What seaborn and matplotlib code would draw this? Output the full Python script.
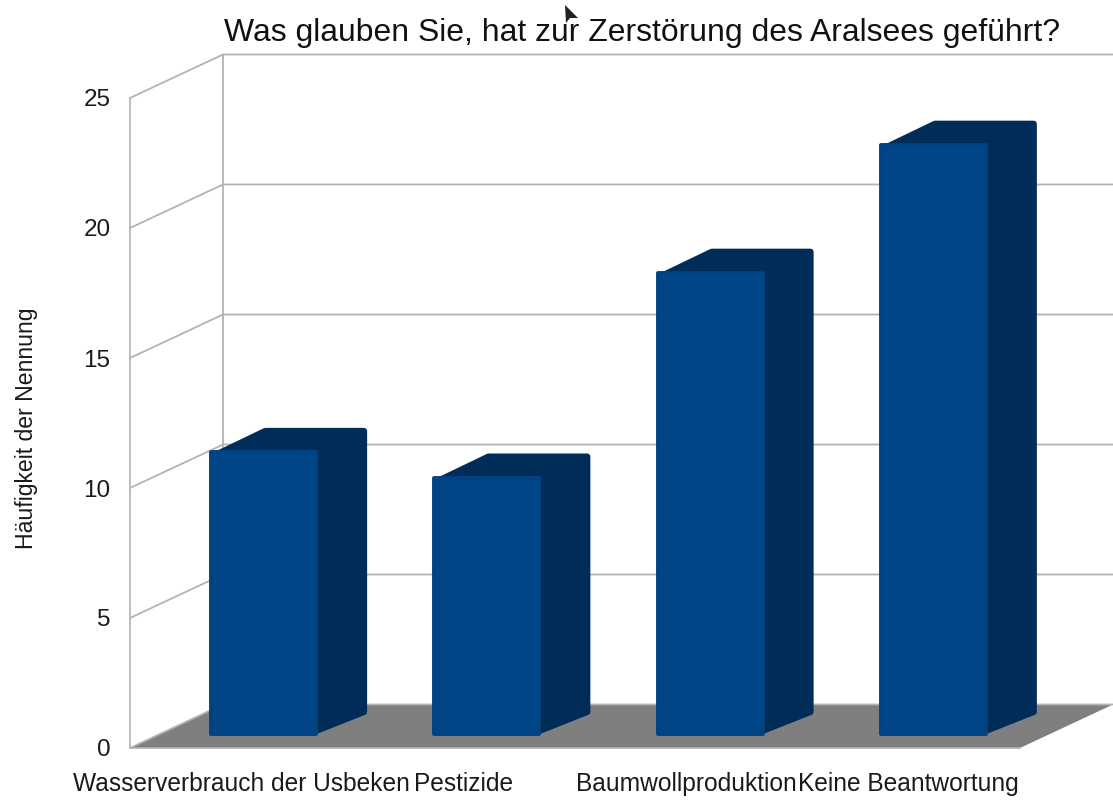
import matplotlib
matplotlib.use("Agg")
import matplotlib.pyplot as plt
import seaborn as sns
import pandas as pd
from matplotlib.patches import Polygon

categories = ["Wasserverbrauch der Usbeken", "Pestizide", "Baumwollproduktion", "Keine Beantwortung"]
values = [11, 10, 18, 23]
y_ticks = [0, 5, 10, 15, 20, 25]
title = "Was glauben Sie, hat zur Zerstörung des Aralsees geführt?"
y_label = "Häufigkeit der Nennung"

FRONT = "#004586"
EDGE = "#004282"
DEPTH = "#002c58"
GRID = "#b3b3b3"
FLOOR = "#7f7f7f"
W, H = 1113, 800

sns.set_theme(style="white")
plt.rcParams["font.family"] = ["Liberation Sans", "DejaVu Sans"]
fig = plt.figure(figsize=(W / 100, H / 100), dpi=100, facecolor="white")


def box(x0, x1, ytop, ybot):
    return [x0 / W, 1 - ybot / H, (x1 - x0) / W, (ybot - ytop) / H]


# Front plane: holds the value axis and the category labels
ax = fig.add_axes(box(130, 1020, 98, 748))
ax.set_xlim(-0.5, 3.5)
ax.set_ylim(0, 25)
ax.set_facecolor("none")
for s in ("top", "right", "bottom"):
    ax.spines[s].set_visible(False)
ax.spines["left"].set_color(GRID)
ax.spines["left"].set_linewidth(1.2)
ax.set_xticks(range(len(categories)))
ax.set_xticklabels(categories, fontsize=17.65, color="#1a1a1a")
ax.set_yticks(y_ticks)
ax.set_yticklabels([str(t) for t in y_ticks], fontsize=17.5, color="#1a1a1a")
ax.tick_params(axis="x", length=0, pad=17.5)
ax.tick_params(axis="y", length=0, pad=14)

# Walls and floor, projected from the front plane
sx = 4 / 890  # data units per pixel on x
sy = 25 / 650  # data units per pixel on y
dx, dy = 93 * sx, 43.5 * sy
x_left = -0.5
x_front_right = 3.5
x_edge = x_left + (W - 130) * sx
ax.add_patch(Polygon([(x_left, 0), (x_left + dx, dy), (x_edge, dy), (x_front_right, 0)],
                     closed=True, facecolor=FLOOR, edgecolor="none", clip_on=False, zorder=1))
ax.plot([x_left, x_front_right], [0, 0], color=GRID, lw=1.2, clip_on=False, zorder=1.5)
for t in y_ticks:
    ax.plot([x_left, x_left + dx, x_edge], [t, t + dy, t + dy], color=GRID, lw=1.3,
            clip_on=False, zorder=1.2, solid_joinstyle="miter")
ax.plot([x_left + dx, x_left + dx], [dy, 25 + dy], color=GRID, lw=1.3, clip_on=False, zorder=1.2)

# Bars stand inside the box, on their own slightly smaller plane
PX = 25.6
bar_ax = fig.add_axes(box(152, 1045, 734 - 25 * PX, 734))
bar_ax.set_facecolor("none")
df = pd.DataFrame({"Antwort": categories, "Nennungen": values})
sns.barplot(data=df, x="Antwort", y="Nennungen", color=FRONT, saturation=1,
            width=0.47, ax=bar_ax, zorder=3)
bar_ax.set_xlim(-0.5, 3.5)
bar_ax.set_ylim(0, 25)
bar_ax.axis("off")
ux = 4 / 893
bx, by = 51 * ux, 24.5 / PX
rx, ry = 3.1 * ux, 3.1 / PX
for p in list(bar_ax.patches):
    p.set_edgecolor(EDGE)
    p.set_linewidth(2.8)
    p.set_joinstyle("round")
    p.set_clip_on(False)
    x0, x1 = p.get_x(), p.get_x() + p.get_width()
    top = p.get_height()
    bar_ax.add_patch(Polygon([(x0 + rx, top - ry), (x0 + bx + rx, top + by - ry),
                              (x1 + bx - rx, top + by - ry), (x1 + bx - rx, by + ry - 5.5 / PX),
                              (x1, ry)],
                             closed=True, facecolor=DEPTH, edgecolor=DEPTH, lw=4.5,
                             joinstyle="round", clip_on=False, zorder=2))

fig.text(642 / W, 1 - 32.5 / H, title, ha="center", va="center", fontsize=22.97, color="#111111")
fig.text(27 / W, 1 - 428 / H, y_label, rotation=90, ha="center", va="center", fontsize=16.6, color="#1a1a1a")

# Mouse pointer captured in the screenshot
fig.add_artist(Polygon([(565 / W, 1 - 5 / H), (566 / W, 1 - 23 / H), (570 / W, 1 - 18 / H),
                        (578 / W, 1 - 18 / H)],
                       closed=True, facecolor="#222222", edgecolor="none",
                       transform=fig.transFigure))

fig.savefig("out.png", dpi=100)
